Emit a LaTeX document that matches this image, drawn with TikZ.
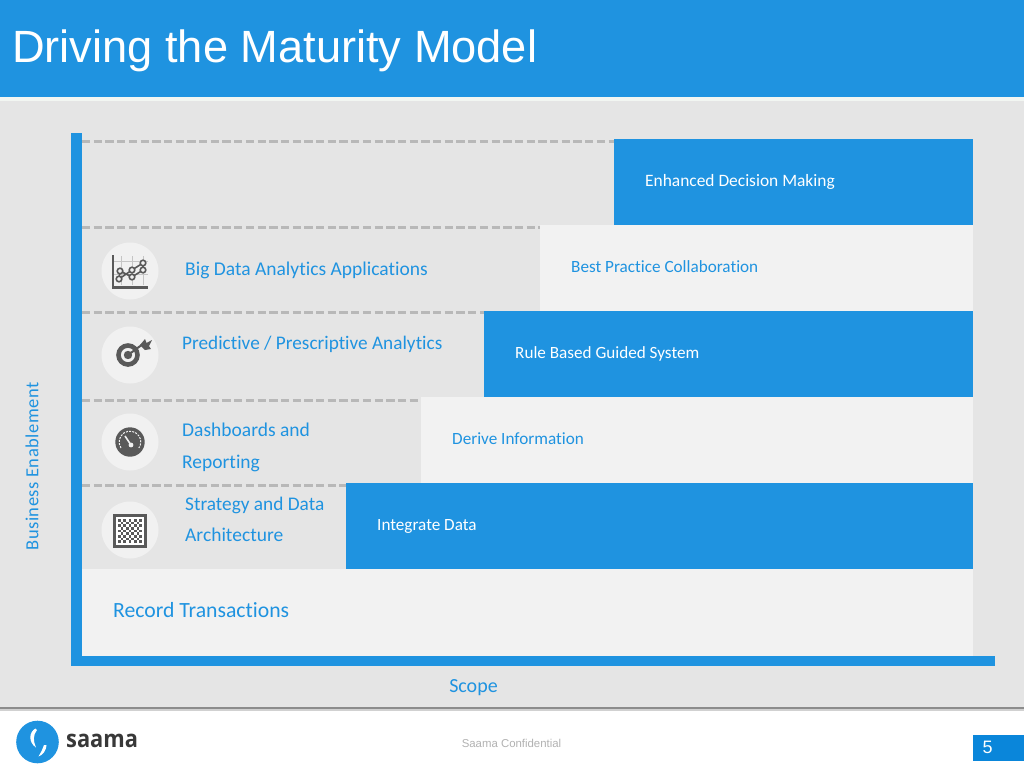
\documentclass[tikz,border=0pt]{standalone}
\usepackage{fontspec}
\setmainfont[RawFeature={-liga}]{Carlito}
\newfontfamily\arialf{Liberation Sans}
\newfontfamily\logof{Open Sans}
\definecolor{sblue}{HTML}{1F93E0}
\definecolor{panel}{HTML}{E5E5E5}
\definecolor{lite}{HTML}{F2F2F2}
\definecolor{dashc}{HTML}{B8B8B8}
\definecolor{iconc}{HTML}{595959}
\definecolor{discc}{HTML}{F1F1F1}
\definecolor{pagebox}{HTML}{0A86DA}
\definecolor{glow}{HTML}{F2F6F2}
\tikzset{
  x=1pt,y=-1pt,
  stepdash/.style={draw=dashc,line width=3pt,dash pattern=on 8.3pt off 3.4pt},
  bluebox/.style={fill=sblue,draw=none},
  litebox/.style={fill=lite,draw=none},
  tag/.style={anchor=west,inner sep=0pt,font=\fontsize{17.15}{17.15}\selectfont,text=white},
  tagb/.style={tag,text=sblue},
  head/.style={anchor=west,inner sep=0pt,font=\fontsize{19.5}{19.5}\selectfont,text=sblue,align=left},
  icondisc/.style={circle,fill=discc,draw=none,minimum size=57pt,inner sep=0pt},
}
\begin{document}
\begin{tikzpicture}
\useasboundingbox (0,0) rectangle (1024,768);
\fill[white] (0,0) rectangle (1024,768);
% panel and header
\fill[panel] (0,98) rectangle (1024,707);
\fill[glow] (0,97) rectangle (1024,101);
\fill[sblue] (0,0) rectangle (1024,97);
\fill[black!45] (0,707) rectangle (1024,709);
\fill[black!18] (0,709) rectangle (1024,710.5);
\node[anchor=west,inner sep=0pt,text=white,font=\arialf\fontsize{45.2}{45.2}\selectfont] (title) at (12,51) {Driving the Maturity Model};
% steps
\fill[litebox] (81,569) rectangle (973,656);
\fill[bluebox] (346,483) rectangle (973,569);
\fill[litebox] (421,397) rectangle (973,483);
\fill[bluebox] (484,311) rectangle (973,397);
\fill[litebox] (540,225) rectangle (973,311);
\fill[bluebox] (614,139) rectangle (973,225);
% dashes
\coordinate (d1a) at (82,141); \coordinate (d1b) at (614,141);
\coordinate (d2a) at (82,227.5); \coordinate (d2b) at (540,227.5);
\coordinate (d3a) at (82,312.5); \coordinate (d3b) at (484,312.5);
\coordinate (d4a) at (82,400); \coordinate (d4b) at (421,400);
\coordinate (d5a) at (82,485); \coordinate (d5b) at (346,485);
\draw[stepdash] (d1a) -- (d1b);
\draw[stepdash] (d2a) -- (d2b);
\draw[stepdash] (d3a) -- (d3b);
\draw[stepdash] (d4a) -- (d4b);
\draw[stepdash] (d5a) -- (d5b);
% axes
\fill[sblue] (71,133) rectangle (82,666);
\fill[sblue] (71,656) rectangle (995,666);
% labels
\node[tag,font=\fontsize{17.4}{17.4}\selectfont] (t1) at (645,181.5) {Enhanced Decision Making};
\node[tagb] (t2) at (571,267) {Best Practice Collaboration};
\node[tag] (t3) at (515,353.5) {Rule Based Guided System};
\node[tagb] (t4) at (452,438.5) {Derive Information};
\node[tag] (t5) at (377,526) {Integrate Data};
\node[head] (h1) at (185,270.5) {Big Data Analytics Applications};
\node[head,font=\fontsize{19.25}{19.25}\selectfont] (h2) at (182,344) {Predictive / Prescriptive Analytics};
\node[head] (h3a) at (182,430) {Dashboards and};
\node[head] (h3b) at (182,463) {Reporting};
\node[head,font=\fontsize{19.3}{19.3}\selectfont] (h4a) at (185,505) {Strategy and Data};
\node[head] (h4b) at (185,534.5) {Architecture};
\node[head,font=\fontsize{21.7}{21.7}\selectfont] (h5) at (113,610) {Record Transactions};
\node[anchor=center,inner sep=0pt,text=sblue,rotate=90,font=\fontsize{18.5}{18.5}\selectfont\addfontfeatures{LetterSpace=2.6}] (yaxis) at (32,466.5) {Business Enablement};
\node[anchor=center,inner sep=0pt,text=sblue,font=\fontsize{20}{20}\selectfont] (xaxis) at (473.5,688) {Scope};
% icon discs
\node[icondisc] (i1) at (130,271) {};
\node[icondisc] (i2) at (130,355) {};
\node[icondisc] (i3) at (130,442) {};
\node[icondisc] (i4) at (130,530) {};
% icon 1: chart
\begin{scope}[shift={(i1)}]
\draw[iconc!35,line width=.8pt] (-9,-15) -- (-9,14) (2,-15) -- (2,14) (13,-15) -- (13,14) (-17,-10) -- (18,-10) (-17,3) -- (18,3);
\draw[iconc,line width=2.6pt] (-17,-16) -- (-17,16.5) -- (18,16.5);
\draw[iconc,line width=1.6pt] (-11,8) -- (-10,0) -- (2,6) -- (13,-1) -- (13,-8) -- (2,-1) -- (-11,8);
\foreach \p in {(-11,8),(2,-1),(13,-8),(-10,0),(2,6),(13,-1)}
  \draw[iconc,fill=discc,line width=1.6pt] \p circle (2.8pt);
\end{scope}
% icon 2: target
\begin{scope}[shift={(i2)}]
\draw[iconc,line width=4.6pt] (-2,0) circle (9.5pt);
\fill[iconc] (-2,0) circle (4.2pt);
\draw[iconc,line width=2pt] (-2,0) -- (13,-11);
\fill[iconc] (10,-10) -- (15,-16) -- (16.5,-12) -- (22,-15) -- (19,-9) -- (21,-6) -- (15,-5) -- cycle;
\end{scope}
% icon 3: gauge
\begin{scope}[shift={(i3)}]
\fill[iconc] (0,0) circle (14.7pt);
\draw[discc,line width=1pt,dash pattern=on 2pt off 1.2pt] (-9,6) arc (214:-34:10.8pt);
\draw[discc,line width=1.6pt] (-5,-6) -- (1,3);
\fill[discc] (1,3) circle (2.4pt);
\end{scope}
% icon 4: checker
\begin{scope}[shift={(i4)}]
\fill[iconc] (-17,-16) rectangle (17,18);
\fill[white] (-14,-13) rectangle (14,15);
\foreach \c in {0,...,8}\foreach \r in {0,...,8}{
  \pgfmathparse{int(mod(\c+\r,2))}
  \ifnum\pgfmathresult=0 \fill[iconc] ({-12+\c*2.667},{-11+\r*2.667}) rectangle +(2.667,2.667);\fi
}
\end{scope}
% footer
\node[anchor=center,inner sep=0pt,text=black!30,font=\arialf\fontsize{11.4}{11.4}\selectfont] (conf) at (511.5,743) {Saama Confidential};
\fill[pagebox] (973,735) rectangle (1024,760.5);
\node[anchor=center,inner sep=0pt,text=white,font=\arialf\fontsize{18}{18}\selectfont] (pg) at (987.5,747.5) {5};
% logo
\fill[sblue] (37.5,742) circle (21.3pt);
\fill[white] (35.5,728.5) .. controls (29,732) and (28,742) .. (36,747.5) .. controls (33,741) and (33,735) .. (37,730) -- cycle;
\fill[white] (46.5,745) .. controls (46.5,750) and (43,755) .. (38.5,756.5) .. controls (41,752) and (43,749) .. (44,745) -- cycle;
\node[anchor=west,inner sep=0pt,xscale=.91,text=black!78,font=\logof\bfseries\fontsize{24}{24}\selectfont] (logo) at (66,741) {saama};
\end{tikzpicture}
\end{document}
